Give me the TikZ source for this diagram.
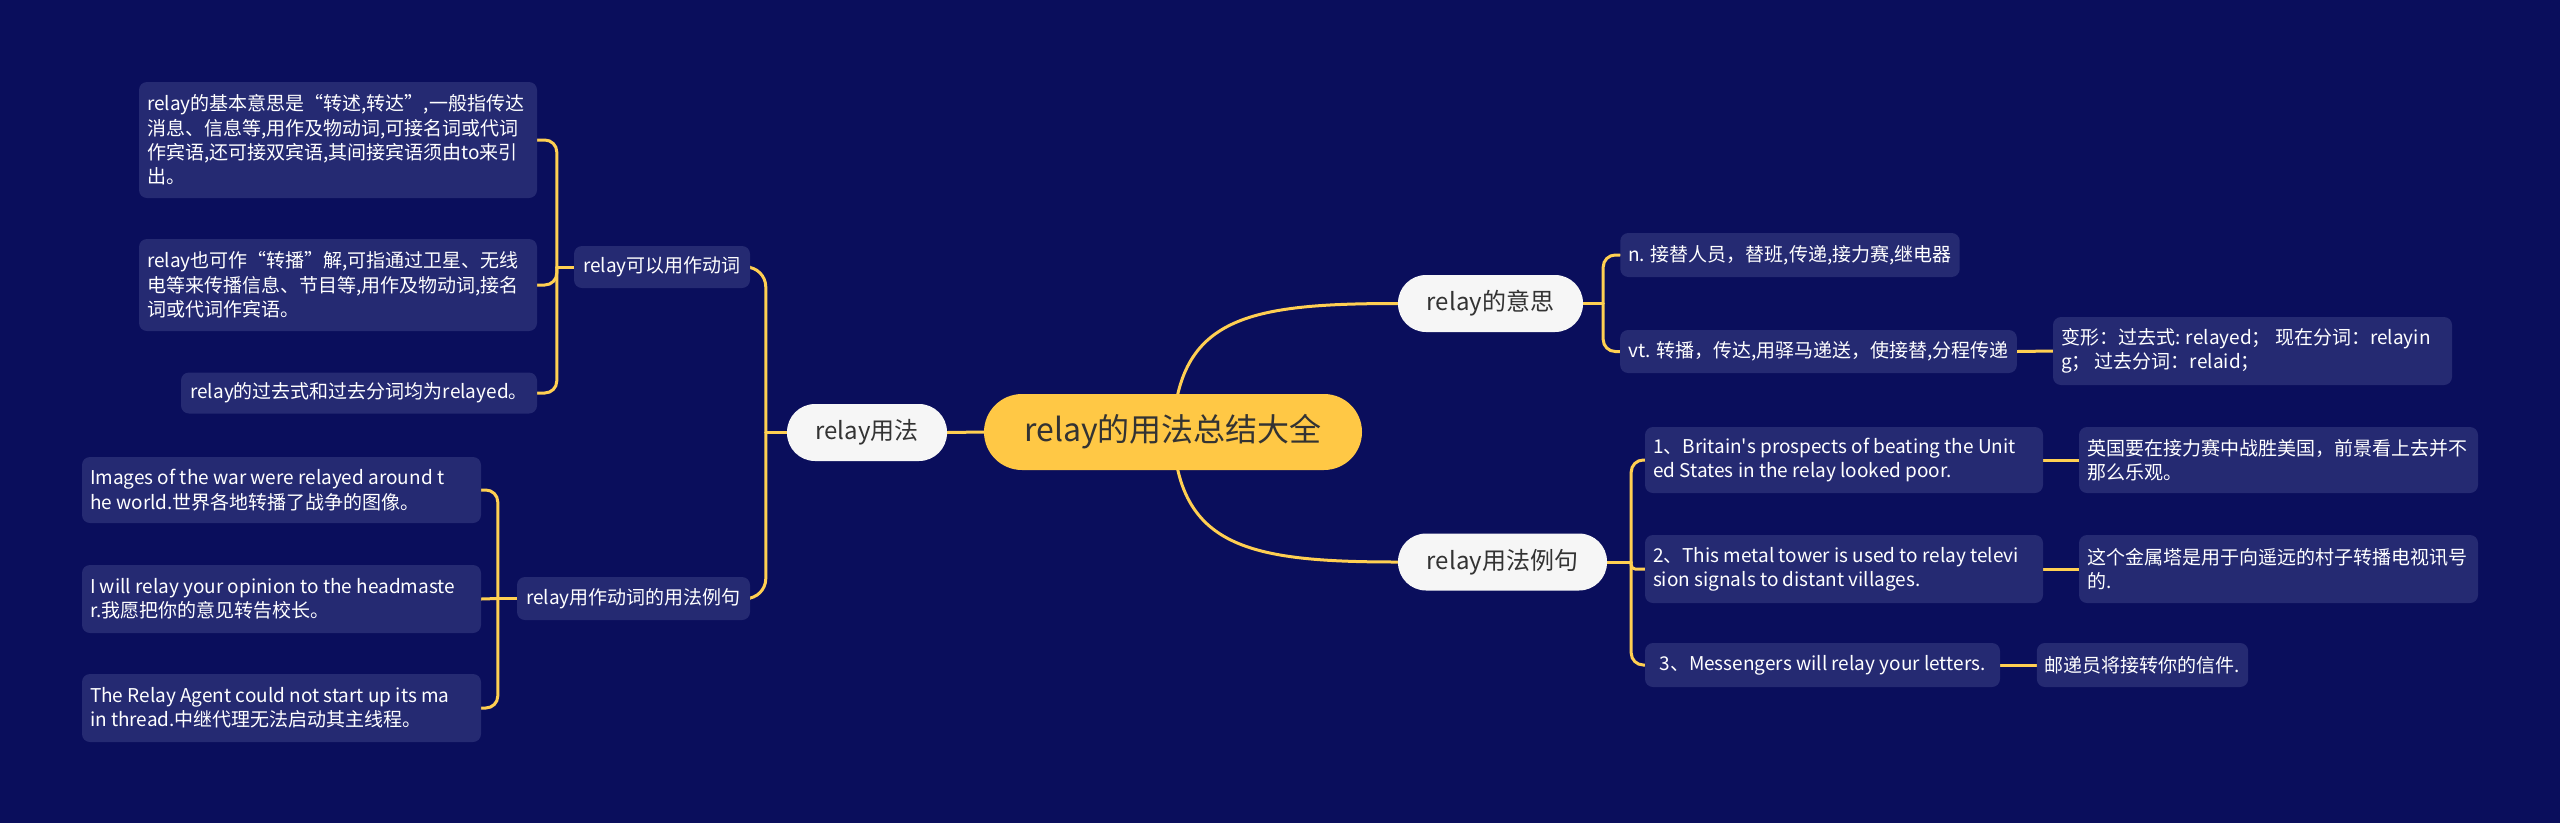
\documentclass[tikz,border=0pt]{standalone}
\usepackage{fontspec}
\setmainfont{Noto Sans CJK SC}
\usetikzlibrary{backgrounds}
\definecolor{bgnavy}{HTML}{0A0E5C}
\definecolor{leafblue}{HTML}{252A72}
\definecolor{gold}{HTML}{FFC845}
\definecolor{linkgold}{HTML}{FFCF52}
\definecolor{pale}{HTML}{F6F6F6}
\definecolor{ink}{HTML}{333333}

\begin{document}
\begin{tikzpicture}[x=1pt,y=-1pt,
  rootbox/.style={fill=gold, text=ink, rounded corners=38pt, minimum width=378pt, minimum height=76pt, font=\fontsize{32}{38}\selectfont},
  topicbox/.style={fill=pale, text=ink, rounded corners=28pt, minimum width=#1, minimum height=57pt, font=\fontsize{24}{29}\selectfont},
  leafbox/.style 2 args={fill=leafblue, text=white, rounded corners=8pt, inner xsep=8pt, inner ysep=0pt, minimum width=#1, minimum height=#2, align=flush left, font=\fontsize{19}{24.3}\selectfont},
  link/.style={draw=linkgold, line width=3pt, line cap=round}]
  \useasboundingbox (0,0) rectangle (2560,823);

  \node[rootbox] (root) at (1173,432) {relay的用法总结大全};
  \node[topicbox=160pt] (usage) at (867,432.5) {relay用法};
  \node[topicbox=185pt] (meaning) at (1490.5,303.5) {relay的意思};
  \node[topicbox=209pt] (examples) at (1502.5,562) {relay用法例句};

  \node[leafbox={176pt}{42pt}] (verb) at (662,267) {relay可以用作动词};
  \node[leafbox={233pt}{43pt}] (verbex) at (633.5,598.5) {relay用作动词的用法例句};
  \node[leafbox={398pt}{116pt}, text width=382pt] (def1) at (338,140) {relay的基本意思是“转述,转达”,一般指传达\\消息、信息等,用作及物动词,可接名词或代词\\作宾语,还可接双宾语,其间接宾语须由to来引\\出。};
  \node[leafbox={398pt}{92pt}, text width=382pt] (def2) at (338,285) {relay也可作“转播”解,可指通过卫星、无线\\电等来传播信息、节目等,用作及物动词,接名\\词或代词作宾语。};
  \node[leafbox={356pt}{41pt}] (def3) at (359,393) {relay的过去式和过去分词均为relayed。};
  \node[leafbox={399pt}{66pt}, text width=383pt] (sent1) at (281.5,490) {Images of the war were relayed around t\\he world.世界各地转播了战争的图像。};
  \node[leafbox={399pt}{68pt}, text width=383pt] (sent2) at (281.5,599) {I will relay your opinion to the headmaste\\r.我愿把你的意见转告校长。};
  \node[leafbox={399pt}{68pt}, text width=383pt] (sent3) at (281.5,708) {The Relay Agent could not start up its ma\\in thread.中继代理无法启动其主线程。};

  \node[leafbox={338pt}{44pt}] (noun) at (1790,255) {n. 接替人员，替班,传递,接力赛,继电器};
  \node[leafbox={395pt}{43pt}] (vt) at (1818.5,351.5) {vt. 转播，传达,用驿马递送，使接替,分程传递};
  \node[leafbox={399pt}{68pt}, text width=383pt] (forms) at (2252.5,351) {变形：过去式: relayed；  现在分词：relayin\\g；  过去分词：relaid；};

  \node[leafbox={398pt}{66pt}, text width=382pt] (ex1) at (1844,460) {1、Britain\textquotesingle s prospects of beating the Unit\\ed States in the relay looked poor.};
  \node[leafbox={399pt}{66pt}, text width=383pt] (tr1) at (2278.5,460) {英国要在接力赛中战胜美国，前景看上去并不\\那么乐观。};
  \node[leafbox={398pt}{68pt}, text width=382pt] (ex2) at (1844,569) {2、This metal tower is used to relay televi\\sion signals to distant villages.};
  \node[leafbox={399pt}{68pt}, text width=383pt] (tr2) at (2278.5,569) {这个金属塔是用于向遥远的村子转播电视讯号\\的.};
  \node[leafbox={355pt}{44pt}] (ex3) at (1822.5,665) {3、Messengers will relay your letters.};
  \node[leafbox={211pt}{44pt}] (tr3) at (2142.5,665) {邮递员将接转你的信件.};

  \begin{scope}[on background layer]
    \fill[bgnavy] (0,0) rectangle (2560,823);
    \draw[link] (usage.east) -- (root.west);
    \draw[link] (root.center) .. controls +(5,-115) and +(-150,0) .. (meaning.west);
    \draw[link] (root.center) .. controls +(5,115) and +(-150,0) .. (examples.west);

    \draw[link] (usage.west) -- ++(-21,0) coordinate (uj);
    \draw[link, rounded corners=20pt] (uj) |- (verb.east);
    \draw[link, rounded corners=20pt] (uj) |- (verbex.east);

    \draw[link] (verb.west) -- ++(-17,0) coordinate (vj);
    \foreach \leaf in {def1,def2,def3}
      \draw[link, rounded corners=12pt] (vj) |- (\leaf.east);

    \draw[link] (verbex.west) -- ++(-19,0) coordinate (xj);
    \foreach \leaf in {sent1,sent3}
      \draw[link, rounded corners=12pt] (xj) |- (\leaf.east);
    \draw[link] (xj) -- (sent2.east);

    \draw[link] (meaning.east) -- ++(20,0) coordinate (mj);
    \foreach \leaf in {noun,vt}
      \draw[link, rounded corners=12pt] (mj) |- (\leaf.west);
    \draw[link] (vt.east) -- (forms.west);

    \draw[link] (examples.east) -- ++(24,0) coordinate (ej);
    \foreach \leaf in {ex1,ex3}
      \draw[link, rounded corners=12pt] (ej) |- (\leaf.west);
    \draw[link, rounded corners=4pt] (ej) |- (ex2.west);
    \foreach \i in {1,2,3}
      \draw[link] (ex\i.east) -- (tr\i.west);
  \end{scope}
\end{tikzpicture}
\end{document}
